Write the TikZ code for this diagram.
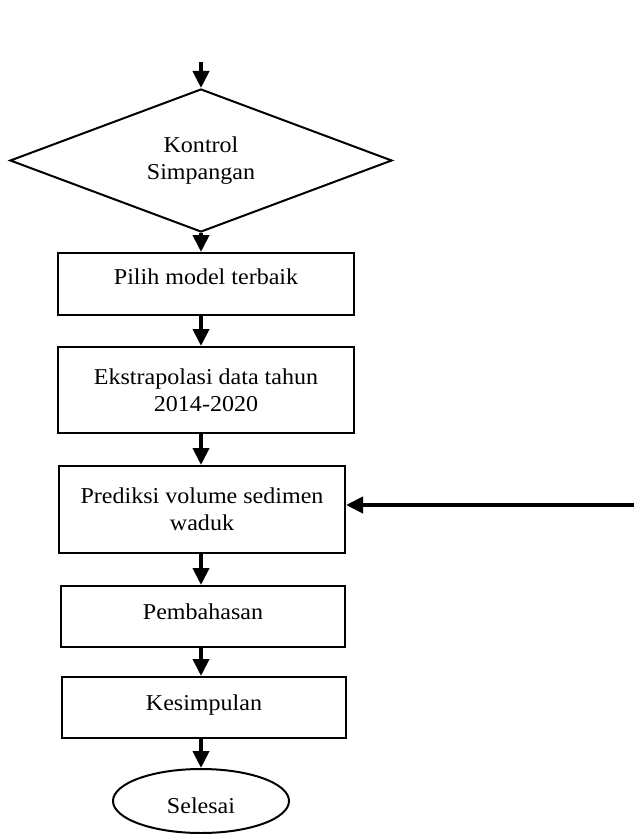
\documentclass[tikz,border=0pt]{standalone}
\usepackage{fontspec}
\setmainfont{Liberation Serif}[FakeStretch=1.06]
\usetikzlibrary{shapes.geometric,arrows.meta}
\begin{document}
\begin{tikzpicture}[x=0.75pt,y=-0.75pt,
  every node/.style={font=\fontsize{17pt}{20.5pt}\selectfont, align=center, inner sep=0pt},
  stepbox/.style={draw, line width=1.5pt, rectangle},
  oneline/.style={text height=12pt, text depth=#1},
  dec/.style={draw, line width=1.5pt, diamond, shape aspect=2.67},
  term/.style={draw, line width=1.5pt, ellipse},
  arr/.style={line width=3pt, -{Triangle[width=12pt,length=12.75pt]}}]
\useasboundingbox (0,0) rectangle (634,834);
\coordinate (start) at (201,62);
\node[dec, minimum width=382*0.75pt, minimum height=143*0.75pt] (d) at (201,160.5) {Kontrol\\Simpangan};
\node[stepbox, oneline=12pt, minimum width=296*0.75pt, minimum height=62*0.75pt] (b1) at (206,284) {Pilih model terbaik};
\node[stepbox, minimum width=296*0.75pt, minimum height=86*0.75pt] (b2) at (206,390) {Ekstrapolasi data tahun\\2014-2020};
\node[stepbox, minimum width=286*0.75pt, minimum height=87*0.75pt] (b3) at (202,509.5) {Prediksi volume sedimen\\waduk};
\node[stepbox, oneline=8pt, minimum width=284*0.75pt, minimum height=61*0.75pt] (b4) at (203,616.5) {Pembahasan};
\node[stepbox, oneline=8pt, minimum width=284*0.75pt, minimum height=61*0.75pt] (b5) at (204,707.5) {Kesimpulan};
\node[term, text height=18pt, text depth=0pt, minimum width=176*0.75pt, minimum height=64*0.75pt] (e) at (201,801) {Selesai};
\coordinate (ext) at (634,505);
\draw[arr] (start) -- (d.north);
\draw[arr] (d.south) -- (b1.north -| d.south);
\draw[arr] (b1.south -| d.south) -- (b2.north -| d.south);
\draw[arr] (b2.south -| d.south) -- (b3.north -| d.south);
\draw[arr] (b3.south -| d.south) -- (b4.north -| d.south);
\draw[arr] (b4.south -| d.south) -- (b5.north -| d.south);
\draw[arr] (b5.south -| d.south) -- (e.north);
\draw[arr] (ext) -- (ext -| b3.east);
\end{tikzpicture}
\end{document}
